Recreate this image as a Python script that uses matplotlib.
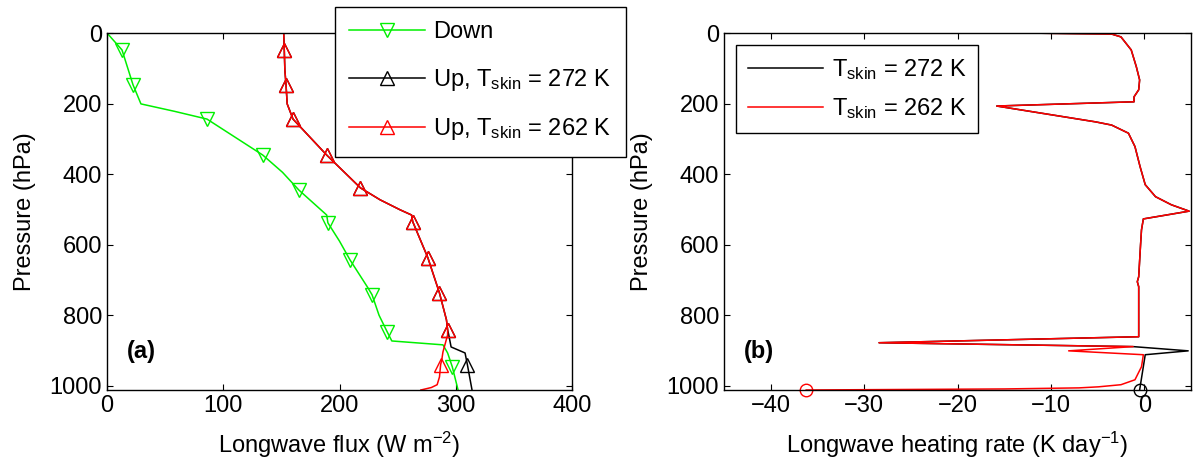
import matplotlib
matplotlib.use("Agg")
import matplotlib.pyplot as plt

plt.rcParams["font.family"] = ["Liberation Sans", "DejaVu Sans"]
plt.rcParams["mathtext.default"] = "regular"
plt.rcParams["font.size"] = 17

# (a) longwave fluxes, pressure in hPa, flux in W m-2
p_down = [0, 48, 147, 201, 222, 244, 295, 346, 395, 445, 516, 538, 590, 643,
          720, 742, 800, 847, 873, 884, 907, 946, 1012]
flux_down = [0, 12.9, 22.4, 29.2, 58, 86, 110, 134, 151, 165, 189, 190, 200, 209,
             224, 228, 234, 241, 245, 289, 293, 297, 302]
mk_down = [1, 2, 5, 7, 9, 11, 13, 15, 17, 21]

p_up272 = [0, 48, 105, 147, 201, 244, 346, 439, 473, 501, 516, 535, 637, 737,
           813, 841, 856, 890, 907, 940, 1012]
flux_up272 = [152, 152.5, 153, 154, 155, 160, 189, 218, 235, 252, 262, 263, 276, 286,
              292, 293, 294, 296, 308, 310, 314]
mk_up272 = [1, 3, 5, 6, 7, 11, 12, 13, 15, 19]

p_up262 = [0, 48, 105, 147, 201, 244, 346, 439, 473, 501, 516, 535, 637, 737,
           813, 841, 856, 904, 926, 940, 975, 997, 1005, 1012]
flux_up262 = [152, 152.5, 153, 154, 155, 160, 189, 218, 235, 252, 262, 263, 276, 286,
              292, 293, 293, 289, 288, 287, 286, 284, 279, 270]
mk_up262 = [1, 3, 5, 6, 7, 11, 12, 13, 15, 19]

# (b) heating rates, K/day
p_hr272 = [0, 3, 11, 48, 96, 133, 161, 181, 195, 207, 252, 261, 284, 322, 379, 430,
           464, 487, 505, 527, 558, 600, 691, 705, 719, 861, 878, 889, 901, 912, 1012]
hr272 = [-13.2, -3.5, -2.5, -1.4, -0.85, -0.5, -0.6, -1.1, -1.1, -15.8, -5.2, -3.5,
         -1.7, -1.0, -0.45, 0.1, 1.2, 2.9, 4.8, -0.1, -0.3, -0.4, -0.6, -0.75, -0.6,
         -0.6, -28.4, -1.2, 4.7, 0.1, -0.5]

p_hr262 = [0, 3, 11, 48, 96, 133, 161, 181, 195, 207, 252, 261, 284, 322, 379, 430,
           464, 487, 505, 527, 558, 600, 691, 705, 719, 861, 878, 889, 901, 912, 946,
           983, 997, 1003, 1006, 1009, 1012]
hr262 = [-13.2, -3.5, -2.5, -1.4, -0.85, -0.5, -0.6, -1.1, -1.1, -15.8, -5.2, -3.5,
         -1.7, -1.0, -0.45, 0.1, 1.2, 2.9, 4.8, -0.1, -0.3, -0.4, -0.6, -0.75, -0.6,
         -0.6, -28.4, -1.2, -8.1, -0.1, -0.3, -1.0, -2.5, -4.9, -7.0, -15.0, -36.2]

p_top, p_bot = 0, 1012

fig = plt.figure(figsize=(11.94, 4.65), dpi=100)
ax1 = fig.add_axes([107/1194, 1-390/465, 465/1194, 357/465])
ax2 = fig.add_axes([724/1194, 1-390/465, 467/1194, 357/465])

green = "#00f000"
tri = dict(ms=10.5, mfc="none", mew=1.0)
ax1.plot(flux_down, p_down, color=green, lw=1.1, marker="v",
         markevery=mk_down, mec=green, label="Down", **tri)
ax1.plot(flux_up272, p_up272, color="black", lw=1.1, marker="^",
         markevery=mk_up272, mec="black", label="Up, $T_{skin}$ = 272 K", **tri)
ax1.plot(flux_up262, p_up262, color="red", lw=1.1, marker="^",
         markevery=mk_up262, mec="red", label="Up, $T_{skin}$ = 262 K", **tri)
ax1.set_xlim(0, 400)
ax1.set_xticks([0, 100, 200, 300, 400])
ax1.set_xlabel("Longwave flux (W m$^{-2}$)", labelpad=9)
ax1.text(17, 904, "(a)", fontweight="bold", va="center")

ax2.plot(hr272, p_hr272, color="black", lw=1.1, label="$T_{skin}$ = 272 K")
ax2.plot(hr262, p_hr262, color="red", lw=1.1, label="$T_{skin}$ = 262 K")
# surface values
ax2.plot(hr272[-1], p_hr272[-1], "o", ms=9, mfc="none", mec="black", mew=1.0, clip_on=False)
ax2.plot(hr262[-1], p_hr262[-1], "o", ms=9, mfc="none", mec="red", mew=1.0, clip_on=False)
ax2.set_xlim(-45, 5)
ax2.set_xticks([-40, -30, -20, -10, 0])
ax2.set_xlabel("Longwave heating rate (K day$^{-1}$)", labelpad=9)
ax2.text(-42.9, 904, "(b)", fontweight="bold", va="center")

for ax in (ax1, ax2):
    ax.set_ylim(p_bot, p_top)
    ax.set_yticks([0, 200, 400, 600, 800, 1000])
    ax.set_ylabel("Pressure (hPa)", labelpad=10)
    ax.tick_params(direction="in", top=True, right=True, length=4, width=0.8)
    for s in ax.spines.values():
        s.set_linewidth(1.0)

leg1 = ax1.legend(loc="upper left", bbox_to_anchor=(335/1194, 1-7/465),
                  bbox_transform=fig.transFigure, borderaxespad=0, fancybox=False,
                  edgecolor="black", framealpha=1, handlelength=3.2,
                  handletextpad=0.35, labelspacing=1.0, borderpad=0.6)
leg1.get_frame().set_linewidth(1.0)
leg2 = ax2.legend(loc="upper left", bbox_to_anchor=(736/1194, 1-45/465),
                  bbox_transform=fig.transFigure, borderaxespad=0, fancybox=False,
                  edgecolor="black", framealpha=1, handlelength=3.2,
                  handletextpad=0.35, labelspacing=0.6, borderpad=0.5)
leg2.get_frame().set_linewidth(1.0)

fig.savefig("out.png", dpi=100)
